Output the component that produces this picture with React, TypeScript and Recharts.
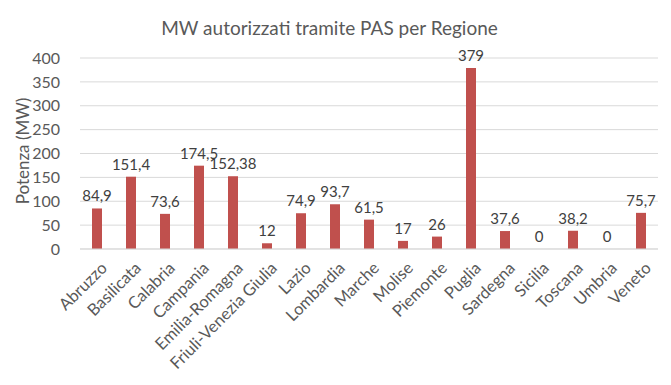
import { ComposedChart, Bar, Line, XAxis, YAxis, CartesianGrid, LabelList } from 'recharts';

const regioni = [
  'Abruzzo', 'Basilicata', 'Calabria', 'Campania', 'Emilia-Romagna', 'Friuli-Venezia Giulia',
  'Lazio', 'Lombardia', 'Marche', 'Molise', 'Piemonte', 'Puglia', 'Sardegna', 'Sicilia',
  'Toscana', 'Umbria', 'Veneto',
];
const potenza = [84.9, 151.4, 73.6, 174.5, 152.38, 12, 74.9, 93.7, 61.5, 17, 26, 379, 37.6, 0, 38.2, 0, 75.7];
const yTicks = [0, 50, 100, 150, 200, 250, 300, 350, 400];

const data = regioni.map((r, i) => ({ regione: r, mw: potenza[i] }));

const font = 'Lato, "Open Sans", sans-serif';

function RegionTick(props: any) {
  const { x, y, payload } = props;
  return (
    <g transform={`translate(${x + 7},${y + 8}) rotate(-45)`}>
      <text textAnchor="end" fill="#595959" fontSize={16.5} fontFamily={font} dy="0.35em">
        {payload.value}
      </text>
    </g>
  );
}

export default function App() {
  return (
    <div style={{ position: 'absolute', left: 0, top: 0, width: 671, height: 385, background: '#fff' }}>
      <div
        style={{
          position: 'absolute',
          top: 16,
          width: 671,
          left: -6,
          textAlign: 'center',
          fontFamily: font,
          fontSize: 19,
          color: '#595959',
        }}
      >
        MW autorizzati tramite PAS per Regione
      </div>
      <div
        style={{
          position: 'absolute',
          left: 22,
          top: 151,
          transform: 'translate(-50%, -50%) rotate(-90deg)',
          fontFamily: font,
          fontSize: 17,
          color: '#595959',
          whiteSpace: 'nowrap',
        }}
      >
        Potenza (MW)
      </div>
      <ComposedChart
        width={671}
        height={385}
        data={data}
        margin={{ top: 58, right: 13, left: 0, bottom: 0 }}
      >
        <CartesianGrid vertical={false} stroke="#D9D9D9" />
        <XAxis
          dataKey="regione"
          interval={0}
          height={136}
          tick={<RegionTick />}
          tickLine={false}
          axisLine={{ stroke: '#D9D9D9' }}
        />
        <YAxis
          width={80}
          domain={[0, 400]}
          ticks={yTicks}
          tickLine={false}
          axisLine={false}
          tick={{ fill: '#595959', fontSize: 16, fontFamily: font }}
          tickMargin={14}
        />
        <Bar dataKey="mw" fill="#C0504D" barSize={10} isAnimationActive={false} />
        <Line dataKey="mw" stroke="none" dot={false} activeDot={false} isAnimationActive={false}>
          <LabelList
            dataKey="mw"
            position="top"
            offset={7}
            fill="#404040"
            fontSize={15}
            fontFamily={font}
            formatter={(v: any) => String(v).replace('.', ',')}
          />
        </Line>
      </ComposedChart>
    </div>
  );
}
